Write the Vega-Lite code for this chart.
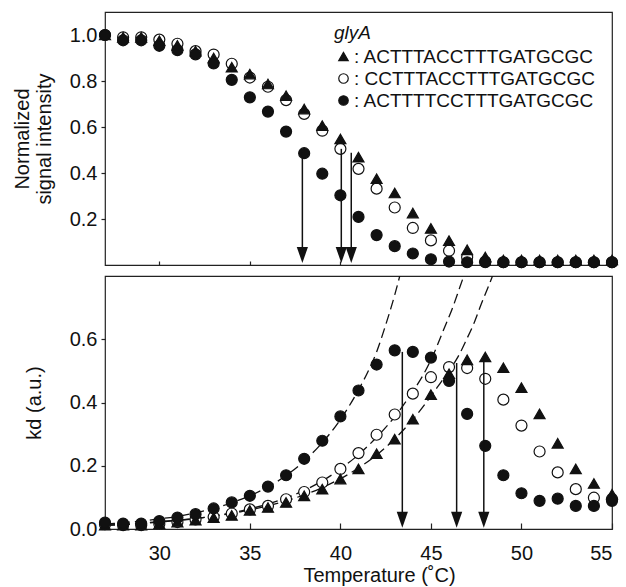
{
  "$schema": "https://vega.github.io/schema/vega-lite/v6.json",
  "padding": {"left": 11, "top": 11, "right": 4, "bottom": 0},
  "spacing": 11,
  "bounds": "flush",
  "config": {
    "font": "Liberation Sans",
    "view": {"stroke": "#222", "strokeWidth": 1.2},
    "axis": {"grid": false, "domain": false, "tickColor": "#222", "tickWidth": 1.2, "labelColor": "#111", "titleColor": "#111", "labelFontSize": 20, "titleFontSize": 20, "titleFontWeight": "normal"},
    "legend": {"orient": "none", "legendX": 229, "legendY": 12, "padding": 0, "titleFontStyle": "italic", "titleFontWeight": "normal", "titleFontSize": 19, "titleColor": "#111", "titlePadding": 4, "labelFontSize": 19, "labelColor": "#111", "labelOffset": 1, "labelLimit": 0, "rowPadding": 2, "symbolSize": 90, "symbolStrokeColor": "#111", "symbolStrokeWidth": 1.2}
  },
  "resolve": {"scale": {"shape": "independent", "fill": "independent", "stroke": "independent"}, "legend": {"shape": "independent", "fill": "independent", "stroke": "independent"}},
  "datasets": {
    "top": [
      {"T":27,"v":1.0,"s":"open"},{"T":28,"v":0.99,"s":"open"},{"T":29,"v":0.99,"s":"open"},{"T":30,"v":0.98,"s":"open"},{"T":31,"v":0.962,"s":"open"},{"T":32,"v":0.93,"s":"open"},{"T":33,"v":0.915,"s":"open"},{"T":34,"v":0.875,"s":"open"},{"T":35,"v":0.815,"s":"open"},{"T":36,"v":0.775,"s":"open"},{"T":37,"v":0.717,"s":"open"},{"T":38,"v":0.657,"s":"open"},{"T":39,"v":0.584,"s":"open"},{"T":40,"v":0.505,"s":"open"},{"T":41,"v":0.418,"s":"open"},{"T":42,"v":0.332,"s":"open"},{"T":43,"v":0.25,"s":"open"},{"T":44,"v":0.161,"s":"open"},{"T":45,"v":0.107,"s":"open"},{"T":46,"v":0.062,"s":"open"},{"T":47,"v":0.034,"s":"open"},{"T":48,"v":0.015,"s":"open"},{"T":49,"v":0.012,"s":"open"},{"T":50,"v":0.012,"s":"open"},{"T":51,"v":0.012,"s":"open"},{"T":52,"v":0.012,"s":"open"},{"T":53,"v":0.012,"s":"open"},{"T":54,"v":0.012,"s":"open"},{"T":55,"v":0.012,"s":"open"},
      {"T":27,"v":1.0,"s":"tri"},{"T":28,"v":0.99,"s":"tri"},{"T":29,"v":0.99,"s":"tri"},{"T":30,"v":0.975,"s":"tri"},{"T":31,"v":0.955,"s":"tri"},{"T":32,"v":0.93,"s":"tri"},{"T":33,"v":0.9,"s":"tri"},{"T":34,"v":0.86,"s":"tri"},{"T":35,"v":0.83,"s":"tri"},{"T":36,"v":0.787,"s":"tri"},{"T":37,"v":0.736,"s":"tri"},{"T":38,"v":0.678,"s":"tri"},{"T":39,"v":0.606,"s":"tri"},{"T":40,"v":0.548,"s":"tri"},{"T":41,"v":0.469,"s":"tri"},{"T":42,"v":0.375,"s":"tri"},{"T":43,"v":0.313,"s":"tri"},{"T":44,"v":0.226,"s":"tri"},{"T":45,"v":0.159,"s":"tri"},{"T":46,"v":0.106,"s":"tri"},{"T":47,"v":0.066,"s":"tri"},{"T":48,"v":0.035,"s":"tri"},{"T":49,"v":0.022,"s":"tri"},{"T":50,"v":0.022,"s":"tri"},{"T":51,"v":0.022,"s":"tri"},{"T":52,"v":0.022,"s":"tri"},{"T":53,"v":0.022,"s":"tri"},{"T":54,"v":0.022,"s":"tri"},{"T":55,"v":0.022,"s":"tri"},
      {"T":27,"v":1.0,"s":"filled"},{"T":28,"v":0.977,"s":"filled"},{"T":29,"v":0.977,"s":"filled"},{"T":30,"v":0.953,"s":"filled"},{"T":31,"v":0.934,"s":"filled"},{"T":32,"v":0.916,"s":"filled"},{"T":33,"v":0.876,"s":"filled"},{"T":34,"v":0.805,"s":"filled"},{"T":35,"v":0.729,"s":"filled"},{"T":36,"v":0.667,"s":"filled"},{"T":37,"v":0.58,"s":"filled"},{"T":38,"v":0.486,"s":"filled"},{"T":39,"v":0.397,"s":"filled"},{"T":40,"v":0.303,"s":"filled"},{"T":41,"v":0.209,"s":"filled"},{"T":42,"v":0.13,"s":"filled"},{"T":43,"v":0.082,"s":"filled"},{"T":44,"v":0.05,"s":"filled"},{"T":45,"v":0.025,"s":"filled"},{"T":46,"v":0.015,"s":"filled"},{"T":47,"v":0.012,"s":"filled"},{"T":48,"v":0.012,"s":"filled"},{"T":49,"v":0.012,"s":"filled"},{"T":50,"v":0.012,"s":"filled"},{"T":51,"v":0.012,"s":"filled"},{"T":52,"v":0.012,"s":"filled"},{"T":53,"v":0.012,"s":"filled"},{"T":54,"v":0.012,"s":"filled"},{"T":55,"v":0.012,"s":"filled"}
    ],
    "bottom": [
      {"T":27,"v":0.015,"s":"open"},{"T":28,"v":0.012,"s":"open"},{"T":29,"v":0.012,"s":"open"},{"T":30,"v":0.016,"s":"open"},{"T":31,"v":0.022,"s":"open"},{"T":32,"v":0.03,"s":"open"},{"T":33,"v":0.038,"s":"open"},{"T":34,"v":0.049,"s":"open"},{"T":35,"v":0.062,"s":"open"},{"T":36,"v":0.073,"s":"open"},{"T":37,"v":0.094,"s":"open"},{"T":38,"v":0.117,"s":"open"},{"T":39,"v":0.147,"s":"open"},{"T":40,"v":0.19,"s":"open"},{"T":41,"v":0.24,"s":"open"},{"T":42,"v":0.298,"s":"open"},{"T":43,"v":0.362,"s":"open"},{"T":44,"v":0.428,"s":"open"},{"T":45,"v":0.48,"s":"open"},{"T":46,"v":0.512,"s":"open"},{"T":47,"v":0.509,"s":"open"},{"T":48,"v":0.475,"s":"open"},{"T":49,"v":0.409,"s":"open"},{"T":50,"v":0.327,"s":"open"},{"T":51,"v":0.245,"s":"open"},{"T":52,"v":0.179,"s":"open"},{"T":53,"v":0.126,"s":"open"},{"T":54,"v":0.099,"s":"open"},{"T":55,"v":0.095,"s":"open"},
      {"T":27,"v":0.012,"s":"tri"},{"T":28,"v":0.012,"s":"tri"},{"T":29,"v":0.012,"s":"tri"},{"T":30,"v":0.016,"s":"tri"},{"T":31,"v":0.022,"s":"tri"},{"T":32,"v":0.028,"s":"tri"},{"T":33,"v":0.036,"s":"tri"},{"T":34,"v":0.043,"s":"tri"},{"T":35,"v":0.059,"s":"tri"},{"T":36,"v":0.068,"s":"tri"},{"T":37,"v":0.084,"s":"tri"},{"T":38,"v":0.105,"s":"tri"},{"T":39,"v":0.126,"s":"tri"},{"T":40,"v":0.158,"s":"tri"},{"T":41,"v":0.19,"s":"tri"},{"T":42,"v":0.238,"s":"tri"},{"T":43,"v":0.284,"s":"tri"},{"T":44,"v":0.347,"s":"tri"},{"T":45,"v":0.425,"s":"tri"},{"T":46,"v":0.491,"s":"tri"},{"T":47,"v":0.535,"s":"tri"},{"T":48,"v":0.544,"s":"tri"},{"T":49,"v":0.51,"s":"tri"},{"T":50,"v":0.447,"s":"tri"},{"T":51,"v":0.364,"s":"tri"},{"T":52,"v":0.271,"s":"tri"},{"T":53,"v":0.19,"s":"tri"},{"T":54,"v":0.144,"s":"tri"},{"T":55,"v":0.11,"s":"tri"},
      {"T":27,"v":0.02,"s":"filled"},{"T":28,"v":0.017,"s":"filled"},{"T":29,"v":0.017,"s":"filled"},{"T":30,"v":0.025,"s":"filled"},{"T":31,"v":0.036,"s":"filled"},{"T":32,"v":0.047,"s":"filled"},{"T":33,"v":0.065,"s":"filled"},{"T":34,"v":0.084,"s":"filled"},{"T":35,"v":0.105,"s":"filled"},{"T":36,"v":0.134,"s":"filled"},{"T":37,"v":0.17,"s":"filled"},{"T":38,"v":0.222,"s":"filled"},{"T":39,"v":0.279,"s":"filled"},{"T":40,"v":0.356,"s":"filled"},{"T":41,"v":0.438,"s":"filled"},{"T":42,"v":0.52,"s":"filled"},{"T":43,"v":0.565,"s":"filled"},{"T":44,"v":0.56,"s":"filled"},{"T":45,"v":0.542,"s":"filled"},{"T":46,"v":0.468,"s":"filled"},{"T":47,"v":0.364,"s":"filled"},{"T":48,"v":0.263,"s":"filled"},{"T":49,"v":0.17,"s":"filled"},{"T":50,"v":0.113,"s":"filled"},{"T":51,"v":0.089,"s":"filled"},{"T":52,"v":0.096,"s":"filled"},{"T":53,"v":0.073,"s":"filled"},{"T":54,"v":0.073,"s":"filled"},{"T":55,"v":0.089,"s":"filled"}
    ],
    "fit": [
      {"T":27,"v":0.015,"s":"filled"},{"T":28,"v":0.02,"s":"filled"},{"T":29,"v":0.025,"s":"filled"},{"T":30,"v":0.032,"s":"filled"},{"T":31,"v":0.04,"s":"filled"},{"T":32,"v":0.051,"s":"filled"},{"T":33,"v":0.065,"s":"filled"},{"T":34,"v":0.083,"s":"filled"},{"T":35,"v":0.105,"s":"filled"},{"T":36,"v":0.133,"s":"filled"},{"T":37,"v":0.169,"s":"filled"},{"T":38,"v":0.215,"s":"filled"},{"T":39,"v":0.273,"s":"filled"},{"T":40,"v":0.346,"s":"filled"},{"T":41,"v":0.44,"s":"filled"},{"T":41.5,"v":0.495,"s":"filled"},{"T":42,"v":0.56,"s":"filled"},{"T":42.5,"v":0.645,"s":"filled"},{"T":43,"v":0.74,"s":"filled"},{"T":43.5,"v":0.85,"s":"filled"},
      {"T":27,"v":0.011,"s":"open"},{"T":28,"v":0.014,"s":"open"},{"T":29,"v":0.017,"s":"open"},{"T":30,"v":0.022,"s":"open"},{"T":31,"v":0.027,"s":"open"},{"T":32,"v":0.033,"s":"open"},{"T":33,"v":0.041,"s":"open"},{"T":34,"v":0.051,"s":"open"},{"T":35,"v":0.064,"s":"open"},{"T":36,"v":0.079,"s":"open"},{"T":37,"v":0.098,"s":"open"},{"T":38,"v":0.122,"s":"open"},{"T":39,"v":0.152,"s":"open"},{"T":40,"v":0.19,"s":"open"},{"T":41,"v":0.235,"s":"open"},{"T":42,"v":0.29,"s":"open"},{"T":43,"v":0.355,"s":"open"},{"T":44,"v":0.435,"s":"open"},{"T":44.6,"v":0.49,"s":"open"},{"T":45.2,"v":0.56,"s":"open"},{"T":45.7,"v":0.63,"s":"open"},{"T":46.2,"v":0.7,"s":"open"},{"T":46.6,"v":0.765,"s":"open"},{"T":47.0,"v":0.83,"s":"open"},
      {"T":27,"v":0.013,"s":"tri"},{"T":28,"v":0.015,"s":"tri"},{"T":29,"v":0.019,"s":"tri"},{"T":30,"v":0.023,"s":"tri"},{"T":31,"v":0.028,"s":"tri"},{"T":32,"v":0.033,"s":"tri"},{"T":33,"v":0.041,"s":"tri"},{"T":34,"v":0.049,"s":"tri"},{"T":35,"v":0.06,"s":"tri"},{"T":36,"v":0.073,"s":"tri"},{"T":37,"v":0.089,"s":"tri"},{"T":38,"v":0.108,"s":"tri"},{"T":39,"v":0.131,"s":"tri"},{"T":40,"v":0.159,"s":"tri"},{"T":41,"v":0.193,"s":"tri"},{"T":42,"v":0.234,"s":"tri"},{"T":43,"v":0.285,"s":"tri"},{"T":44,"v":0.346,"s":"tri"},{"T":45,"v":0.42,"s":"tri"},{"T":45.5,"v":0.46,"s":"tri"},{"T":46,"v":0.5,"s":"tri"},{"T":46.5,"v":0.545,"s":"tri"},{"T":46.94,"v":0.596,"s":"tri"},{"T":47.4,"v":0.654,"s":"tri"},{"T":47.77,"v":0.71,"s":"tri"},{"T":48.14,"v":0.762,"s":"tri"},{"T":48.4,"v":0.8,"s":"tri"},{"T":48.7,"v":0.85,"s":"tri"}
    ],
    "arrowsTop": [{"T":37.9,"top":0.488},{"T":40.05,"top":0.505},{"T":40.6,"top":0.488}],
    "arrowsBottom": [{"T":43.42,"top":0.56},{"T":46.42,"top":0.525},{"T":47.92,"top":0.545}]
  },
  "vconcat": [
    {
      "width": 507,
      "height": 253,
      "layer": [
        {
          "mark": {"type": "rule", "strokeDash": [2, 4], "strokeWidth": 1.5, "color": "#111"},
          "encoding": {"y": {"datum": 0.5, "type": "quantitative", "scale": {"domain": [0, 1.1], "nice": false, "zero": false}}}
        },
        {
          "data": {"name": "top"},
          "mark": {"type": "point", "filled": true, "size": 121, "strokeWidth": 1.2, "opacity": 1},
          "encoding": {
            "x": {"field": "T", "type": "quantitative", "scale": {"domain": [27, 55], "nice": false, "zero": false},
                  "axis": {"values": [30, 35, 40, 45, 50], "labels": false, "tickSize": -4, "title": null, "minExtent": 0, "maxExtent": 0}},
            "y": {"field": "v", "type": "quantitative", "scale": {"domain": [0, 1.1], "nice": false, "zero": false},
                  "axis": {"values": [0.2, 0.4, 0.6, 0.8, 1.0], "format": ".1f", "tickSize": 4, "labelPadding": 4, "title": ["Normalized", "signal intensity"], "titleLineHeight": 22, "titlePadding": 15}},
            "shape": {"field": "s", "type": "nominal", "scale": {"domain": ["tri", "open", "filled"], "range": ["triangle-up", "circle", "circle"]},
                      "legend": {"title": "glyA", "labelExpr": "datum.label == 'tri' ? ':  ACTTTACCTTTGATGCGC' : datum.label == 'open' ? ':  CCTTTACCTTTGATGCGC' : ':  ACTTTTCCTTTGATGCGC'"}},
            "fill": {"field": "s", "type": "nominal", "scale": {"domain": ["tri", "open", "filled"], "range": ["#111", "white", "#111"]},
                     "legend": {"title": "glyA", "labelExpr": "datum.label == 'tri' ? ':  ACTTTACCTTTGATGCGC' : datum.label == 'open' ? ':  CCTTTACCTTTGATGCGC' : ':  ACTTTTCCTTTGATGCGC'"}},
            "stroke": {"field": "s", "type": "nominal", "scale": {"domain": ["tri", "open", "filled"], "range": ["#111", "#111", "#111"]},
                     "legend": {"title": "glyA", "labelExpr": "datum.label == 'tri' ? ':  ACTTTACCTTTGATGCGC' : datum.label == 'open' ? ':  CCTTTACCTTTGATGCGC' : ':  ACTTTTCCTTTGATGCGC'"}}
          }
        },
        {
          "data": {"name": "arrowsTop"},
          "mark": {"type": "rule", "strokeWidth": 1.5, "color": "#111"},
          "encoding": {
            "x": {"field": "T", "type": "quantitative", "scale": {"domain": [27, 55], "nice": false, "zero": false}},
            "y": {"field": "top", "type": "quantitative", "scale": {"domain": [0, 1.1], "nice": false, "zero": false}},
            "y2": {"datum": 0.05}
          }
        },
        {
          "data": {"name": "arrowsTop"},
          "mark": {"type": "point", "shape": "M-0.7,-1L0.7,-1L0,1Z", "size": 256, "filled": true, "color": "#111", "opacity": 1},
          "encoding": {
            "x": {"field": "T", "type": "quantitative", "scale": {"domain": [27, 55], "nice": false, "zero": false}},
            "y": {"datum": 0.0435, "type": "quantitative", "scale": {"domain": [0, 1.1], "nice": false, "zero": false}}
          }
        },
        {
          "mark": {"type": "text", "fontSize": 22, "color": "#111"},
          "encoding": {
            "x": {"datum": 29.3, "type": "quantitative", "scale": {"domain": [27, 55], "nice": false, "zero": false}},
            "y": {"datum": 0.18, "type": "quantitative", "scale": {"domain": [0, 1.1], "nice": false, "zero": false}},
            "text": {"value": "A"}
          }
        }
      ]
    },
    {
      "width": 507,
      "height": 253,
      "layer": [
        {
          "data": {"name": "fit"},
          "mark": {"type": "line", "strokeDash": [10, 5], "strokeWidth": 1.3, "color": "#111", "clip": true, "interpolate": "monotone"},
          "encoding": {
            "x": {"field": "T", "type": "quantitative", "scale": {"domain": [27, 55], "nice": false, "zero": false}},
            "y": {"field": "v", "type": "quantitative", "scale": {"domain": [0, 0.8], "nice": false, "zero": false}},
            "detail": {"field": "s", "type": "nominal"}
          }
        },
        {
          "data": {"name": "bottom"},
          "mark": {"type": "point", "filled": true, "size": 121, "stroke": "#111", "strokeWidth": 1.2, "opacity": 1},
          "encoding": {
            "x": {"field": "T", "type": "quantitative", "scale": {"domain": [27, 55], "nice": false, "zero": false},
                  "axis": {"values": [30, 35, 40, 45, 50, 55], "tickSize": -6, "labelPadding": 20, "title": "Temperature (˚C)", "titlePadding": 2, "titleX": 274}},
            "y": {"field": "v", "type": "quantitative", "scale": {"domain": [0, 0.8], "nice": false, "zero": false},
                  "axis": {"values": [0, 0.2, 0.4, 0.6], "format": ".1f", "tickSize": 4, "labelPadding": 4, "title": "kd (a.u.)", "titlePadding": 25}},
            "shape": {"field": "s", "type": "nominal", "scale": {"domain": ["tri", "open", "filled"], "range": ["triangle-up", "circle", "circle"]}, "legend": null},
            "fill": {"field": "s", "type": "nominal", "scale": {"domain": ["tri", "open", "filled"], "range": ["#111", "white", "#111"]}, "legend": null}
          }
        },
        {
          "data": {"name": "arrowsBottom"},
          "mark": {"type": "rule", "strokeWidth": 1.5, "color": "#111"},
          "encoding": {
            "x": {"field": "T", "type": "quantitative", "scale": {"domain": [27, 55], "nice": false, "zero": false}},
            "y": {"field": "top", "type": "quantitative", "scale": {"domain": [0, 0.8], "nice": false, "zero": false}},
            "y2": {"datum": 0.035}
          }
        },
        {
          "data": {"name": "arrowsBottom"},
          "mark": {"type": "point", "shape": "M-0.7,-1L0.7,-1L0,1Z", "size": 256, "filled": true, "color": "#111", "opacity": 1},
          "encoding": {
            "x": {"field": "T", "type": "quantitative", "scale": {"domain": [27, 55], "nice": false, "zero": false}},
            "y": {"datum": 0.0295, "type": "quantitative", "scale": {"domain": [0, 0.8], "nice": false, "zero": false}}
          }
        },
        {
          "mark": {"type": "text", "fontSize": 22, "color": "#111"},
          "encoding": {
            "x": {"datum": 29.3, "type": "quantitative", "scale": {"domain": [27, 55], "nice": false, "zero": false}},
            "y": {"datum": 0.71, "type": "quantitative", "scale": {"domain": [0, 0.8], "nice": false, "zero": false}},
            "text": {"value": "B"}
          }
        }
      ]
    }
  ]
}
